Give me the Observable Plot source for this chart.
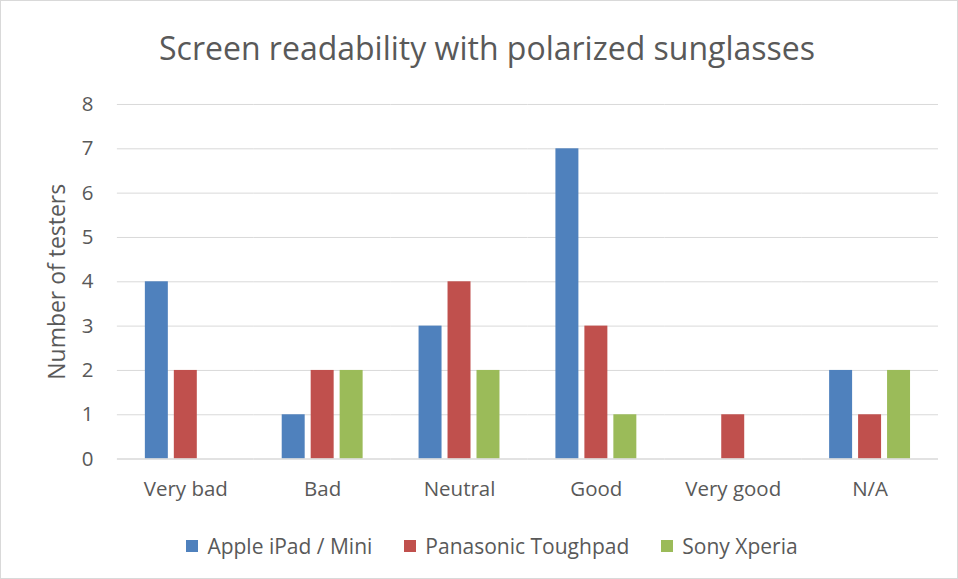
<!DOCTYPE html>
<html>
<head>
<meta charset="utf-8">
<script src="https://cdn.jsdelivr.net/npm/d3@7"></script>
<script src="https://cdn.jsdelivr.net/npm/@observablehq/plot@0.6"></script>
<style>
  html, body { margin: 0; padding: 0; background: #fff; }
  #frame { position: relative; width: 958px; height: 579px; box-sizing: border-box;
           border: 1px solid #d9d9d9; overflow: hidden; font-family: "Open Sans", sans-serif; color: #595959; }
  #title { position: absolute; left: 7px; width: 958px; top: 25px; text-align: center; font-size: 32px; line-height: 44px; color: #595959; }
  #chart { position: absolute; left: -1px; top: 79px; }
  #legend { position: absolute; left: 12px; width: 958px; top: 528px; text-align: center; font-size: 21px; line-height: 30px; }
  .item { display: inline-flex; align-items: center; margin: 0 16px; }
  .sw { width: 12px; height: 12px; margin-right: 9px; display: inline-block; }
  #chart svg text { font-size: 20.5px; }
  #chart svg g[aria-label="y-axis label"] text { font-size: 23px; }
</style>
</head>
<body>
<div id="frame">
  <div id="title">Screen readability with polarized sunglasses</div>
  <div id="chart"></div>
  <div id="legend"></div>
</div>
<script>
const categories = ["Very bad", "Bad", "Neutral", "Good", "Very good", "N/A"];
const series = ["Apple iPad / Mini", "Panasonic Toughpad", "Sony Xperia"];
const colors = ["#4f81bd", "#c0504d", "#9bbb59"];
const appleValues = [4, 1, 3, 7, 0, 2];
const panasonicValues = [2, 2, 4, 3, 1, 1];
const sonyValues = [0, 2, 2, 1, 0, 2];
const yTicks = [0, 1, 2, 3, 4, 5, 6, 7, 8];

const seriesValues = [appleValues, panasonicValues, sonyValues];
const data = [];
categories.forEach((c, i) => {
  series.forEach((s, j) => {
    data.push({category: c, series: s, value: seriesValues[j][i]});
  });
});

const chart = Plot.plot({
  width: 958,
  height: 440,
  marginLeft: 117,
  marginRight: 19,
  marginTop: 24,
  marginBottom: 61,
  style: {fontFamily: "'Open Sans', sans-serif", fontSize: "20px", color: "#595959", background: "transparent"},
  fx: {domain: categories, padding: 0, label: null, tickSize: 0, tickPadding: 22},
  x: {domain: series, paddingInner: 0.2, paddingOuter: 0.95, axis: null},
  y: {domain: [0, 8], ticks: yTicks, tickSize: 0, tickPadding: 24, label: "Number of testers", labelAnchor: "center", labelArrow: "none", labelOffset: 69},
  color: {domain: series, range: colors},
  marks: [
    Plot.ruleY(yTicks.filter(d => d > 0), {stroke: "#d9d9d9", strokeWidth: 1, strokeOpacity: 1}),
    Plot.barY(data.filter(d => d.value > 0), {fx: "category", x: "series", y: "value", fill: "series"}),
    Plot.ruleY([0], {stroke: "#d9d9d9", strokeWidth: 1.5})
  ]
});
document.getElementById("chart").appendChild(chart);

const legend = document.getElementById("legend");
series.forEach((s, i) => {
  const item = document.createElement("span");
  item.className = "item";
  const sw = document.createElement("span");
  sw.className = "sw";
  sw.style.background = colors[i];
  item.appendChild(sw);
  item.appendChild(document.createTextNode(s));
  legend.appendChild(item);
});
</script>
</body>
</html>
